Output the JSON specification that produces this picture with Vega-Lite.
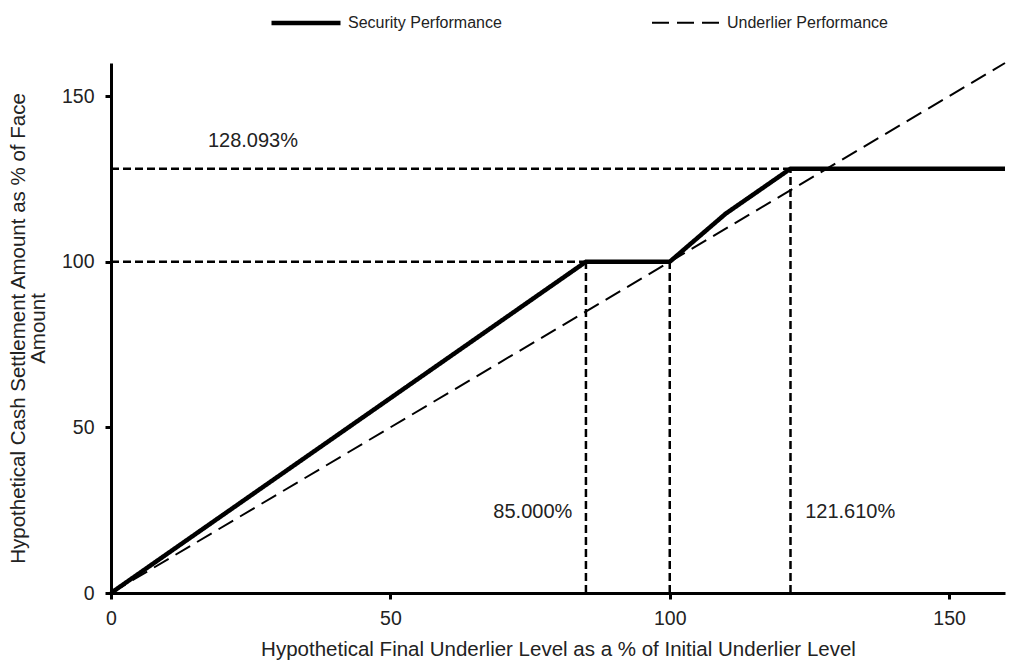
{
  "$schema": "https://vega.github.io/schema/vega-lite/v6.json",
  "autosize": "none",
  "width": 894,
  "height": 530,
  "padding": {"left": 111, "top": 63, "right": 22, "bottom": 75},
  "background": "white",
  "layer": [
    {
      "data": {
        "values": [
          {"x": 0, "y": 128.093, "x2": 121.61, "y2": 128.093},
          {"x": 0, "y": 100, "x2": 85, "y2": 100},
          {"x": 85, "y": 0, "x2": 85, "y2": 100},
          {"x": 100, "y": 0, "x2": 100, "y2": 100},
          {"x": 121.61, "y": 0, "x2": 121.61, "y2": 128.093}
        ]
      },
      "mark": {"type": "rule", "color": "black", "strokeWidth": 2.5, "strokeDash": [8, 4]},
      "encoding": {
        "x": {"field": "x", "type": "quantitative"},
        "y": {"field": "y", "type": "quantitative"},
        "x2": {"field": "x2"},
        "y2": {"field": "y2"}
      }
    },
    {
      "data": {
        "values": [
          {"series": "Underlier Performance", "x": 0, "y": 0, "order": 1},
          {"series": "Underlier Performance", "x": 160, "y": 160, "order": 2},
          {"series": "Security Performance", "x": 0, "y": 0, "order": 1},
          {"series": "Security Performance", "x": 85, "y": 100, "order": 2},
          {"series": "Security Performance", "x": 100, "y": 100, "order": 3},
          {"series": "Security Performance", "x": 110, "y": 114.5, "order": 4},
          {"series": "Security Performance", "x": 121.61, "y": 128.093, "order": 5},
          {"series": "Security Performance", "x": 160, "y": 128.093, "order": 6}
        ]
      },
      "mark": {"type": "line", "strokeCap": "butt"},
      "encoding": {
        "x": {
          "field": "x",
          "type": "quantitative",
          "scale": {"domain": [0, 160], "nice": false},
          "axis": {
            "values": [0, 50, 100, 150],
            "title": "Hypothetical Final Underlier Level as a % of Initial Underlier Level",
            "tickSize": 6,
            "labelPadding": 10,
            "titlePadding": 12
          }
        },
        "y": {
          "field": "y",
          "type": "quantitative",
          "scale": {"domain": [0, 160], "nice": false},
          "axis": {
            "values": [0, 50, 100, 150],
            "title": ["Hypothetical Cash Settlement Amount as % of Face", "Amount"],
            "tickSize": 6,
            "labelPadding": 11,
            "titlePadding": 13
          }
        },
        "order": {"field": "order"},
        "color": {
          "field": "series",
          "type": "nominal",
          "scale": {"domain": ["Security Performance", "Underlier Performance"], "range": ["black", "black"]},
          "legend": {
            "orient": "none",
            "legendX": 158,
            "legendY": -77,
            "direction": "horizontal",
            "title": null,
            "symbolType": "stroke",
            "symbolSize": 4761,
            "labelFontSize": 16,
            "labelOffset": 5,
            "labelLimit": 400,
            "columnPadding": 146,
            "labelColor": "#222"
          }
        },
        "strokeDash": {
          "field": "series",
          "type": "nominal",
          "scale": {"domain": ["Security Performance", "Underlier Performance"], "range": [[1, 0], [17, 8]]}
        },
        "strokeWidth": {
          "field": "series",
          "type": "nominal",
          "scale": {"domain": ["Security Performance", "Underlier Performance"], "range": [4.5, 2]}
        }
      }
    },
    {
      "data": {
        "values": [
          {"label": "128.093%", "x": 25.4, "y": 136.5},
          {"label": "85.000%", "x": 75.5, "y": 24.5},
          {"label": "121.610%", "x": 132.3, "y": 24.5}
        ]
      },
      "mark": {"type": "text", "fontSize": 20, "color": "#222", "align": "center", "baseline": "middle"},
      "encoding": {
        "x": {"field": "x", "type": "quantitative"},
        "y": {"field": "y", "type": "quantitative"},
        "text": {"field": "label"}
      }
    }
  ],
  "config": {
    "font": "Liberation Sans",
    "view": {"stroke": null},
    "axis": {
      "grid": false,
      "domainColor": "black",
      "domainWidth": 3,
      "tickColor": "black",
      "tickWidth": 3,
      "labelFontSize": 19.5,
      "labelColor": "#222",
      "labelFlush": false,
      "titleFontSize": 20.5,
      "titleFontWeight": "normal",
      "titleColor": "#222",
      "titleLineHeight": 20
    }
  }
}
